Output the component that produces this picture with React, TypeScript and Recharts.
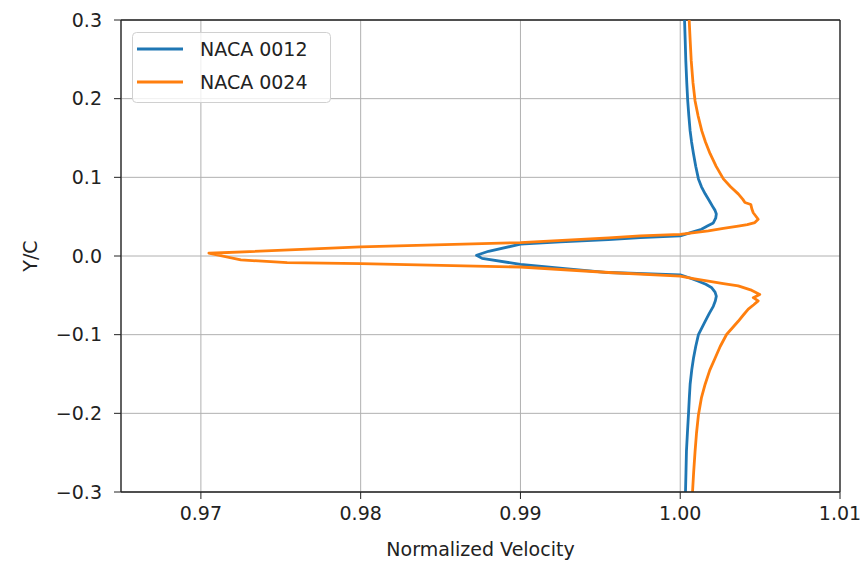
import { LineChart, Line, XAxis, YAxis, CartesianGrid, Legend, ReferenceLine } from "recharts"

const seriesNames = ["NACA 0012", "NACA 0024"]
const seriesColors = ["#1f77b4", "#ff7f0e"]

// Y/C positions and normalized velocity from top to bottom
const yc0012 = [
  0.3, 0.275, 0.248, 0.22, 0.197, 0.178, 0.159, 0.145, 0.13, 0.114, 0.098, 0.088, 0.079, 0.07,
  0.0615, 0.058, 0.0535, 0.048, 0.042, 0.038, 0.034, 0.03, 0.0255, 0.0235, 0.021, 0.018, 0.015,
  0.006, 0.001, -0.003, -0.0106, -0.016, -0.021, -0.024, -0.028, -0.032, -0.036, -0.04, -0.046,
  -0.051, -0.057, -0.064, -0.073, -0.083, -0.1, -0.115, -0.13, -0.145, -0.163, -0.18, -0.2,
  -0.225, -0.248, -0.275, -0.3,
]
const vel0012 = [
  1.00027, 1.00031, 1.00035, 1.00041, 1.00047, 1.00054, 1.00062, 1.00071, 1.00083, 1.00097, 1.00114, 1.00133, 1.00156, 1.00183,
  1.00207, 1.00218, 1.00226, 1.00222, 1.00207, 1.0017, 1.00133, 1.0007, 1.0, 0.9975, 0.9955, 0.9925, 0.99,
  0.988, 0.98725, 0.9876, 0.99, 0.9928, 0.9955, 1.0, 1.0006, 1.00114, 1.0016, 1.00195, 1.00218,
  1.00226, 1.0022, 1.00207, 1.00182, 1.00156, 1.00114, 1.00097, 1.00083, 1.00072, 1.00062, 1.00057, 1.00052,
  1.00045, 1.00039, 1.00036, 1.00033,
]

const yc0024 = [
  0.3, 0.275, 0.248, 0.22, 0.197, 0.178, 0.159, 0.145, 0.13, 0.114, 0.098, 0.088, 0.079, 0.072,
  0.068, 0.0655, 0.06, 0.055, 0.0467, 0.0425, 0.04, 0.038, 0.035, 0.032, 0.0276, 0.0255, 0.023,
  0.017, 0.0115, 0.0035, -0.005, -0.0085, -0.0098, -0.014, -0.021, -0.0255, -0.029, -0.032,
  -0.035, -0.038, -0.043, -0.0488, -0.053, -0.057, -0.062, -0.0675, -0.075, -0.083, -0.0998,
  -0.115, -0.13, -0.145, -0.163, -0.18, -0.202, -0.225, -0.248, -0.275, -0.3,
]
const vel0024 = [
  1.00056, 1.00062, 1.00069, 1.0008, 1.00093, 1.00112, 1.00135, 1.00158, 1.00187, 1.00225, 1.0027, 1.00315, 1.00363, 1.00392,
  1.00405, 1.00442, 1.00448, 1.00457, 1.00488, 1.00467, 1.0042, 1.00363, 1.0027, 1.00176, 1.0, 0.9975, 0.99553,
  0.99, 0.98, 0.9705, 0.9725, 0.9754, 0.98, 0.99, 0.99553, 1.0, 1.0009, 1.00176,
  1.0027, 1.00363, 1.0044, 1.00498, 1.00457, 1.00488, 1.0046, 1.00426, 1.00395, 1.00363, 1.0029,
  1.0025, 1.00218, 1.00185, 1.00156, 1.00133, 1.00114, 1.00102, 1.00093, 1.00084, 1.00077,
]

const xTicks = [0.97, 0.98, 0.99, 1.0, 1.01]
const yTicks = [-0.3, -0.2, -0.1, 0.0, 0.1, 0.2, 0.3]

const toPoints = (ys: number[], vs: number[]) => ys.map((y, i) => ({ y, v: vs[i] }))

const font = "DejaVu Sans"
const textColor = "#222"
const tickStyle = { fill: textColor, fontSize: 19, fontFamily: font }

const fmtY = (v: number) => (v < 0 ? "\u2212" + Math.abs(v).toFixed(1) : v.toFixed(1))

function LegendBox() {
  return (
    <svg width={200} height={72} style={{ display: "block" }}>
      <rect x={0.5} y={0.5} width={198} height={70} rx={4} fill="#fff" fillOpacity={0.8} stroke="#d0d0d0" />
      {seriesNames.map((name, i) => (
        <g key={name}>
          <line x1={5} x2={51} y1={17 + i * 33} y2={17 + i * 33} stroke={seriesColors[i]} strokeWidth={2.8} />
          <text x={68} y={17 + i * 33} dy="0.36em" fontSize={19} fontFamily={font} fill={textColor}>
            {name}
          </text>
        </g>
      ))}
    </svg>
  )
}

export default function App() {
  const data0012 = toPoints(yc0012, vel0012)
  const data0024 = toPoints(yc0024, vel0024)
  return (
    <div style={{ position: "absolute", left: 0, top: 0, background: "#fff" }}>
      <LineChart width={865} height={563} margin={{ top: 20, right: 25, bottom: 0, left: 0 }}>
        <CartesianGrid stroke="#b0b0b0" strokeWidth={1} />
        <XAxis
          dataKey="v"
          type="number"
          domain={[0.965, 1.01]}
          ticks={xTicks}
          allowDataOverflow
          tickFormatter={(v: number) => v.toFixed(2)}
          tick={tickStyle}
          tickSize={7}
          tickMargin={8}
          height={71}
          stroke="#222"
          axisLine={{ stroke: "#222", strokeWidth: 1.3 }}
          label={{ value: "Normalized Velocity", position: "insideBottom", offset: 7, fill: textColor, fontSize: 19, fontFamily: font }}
        />
        <YAxis
          type="number"
          domain={[-0.3, 0.3]}
          ticks={yTicks}
          allowDataOverflow
          tickFormatter={fmtY}
          tick={tickStyle}
          tickSize={7}
          tickMargin={12}
          width={121}
          stroke="#222"
          axisLine={{ stroke: "#222", strokeWidth: 1.3 }}
          label={{ value: "Y/C", angle: -90, position: "insideLeft", offset: 30, fill: textColor, fontSize: 19, fontFamily: font, style: { textAnchor: "middle" } }}
        />
        <ReferenceLine x={1.01} stroke="#222" strokeWidth={1.3} />
        <ReferenceLine y={0.3} stroke="#222" strokeWidth={1.3} />
        <Line
          data={data0012}
          dataKey="y"
          name={seriesNames[0]}
          type="linear"
          stroke={seriesColors[0]}
          strokeWidth={2.8}
          strokeLinejoin="round"
          dot={false}
          isAnimationActive={false}
        />
        <Line
          data={data0024}
          dataKey="y"
          name={seriesNames[1]}
          type="linear"
          stroke={seriesColors[1]}
          strokeWidth={2.8}
          strokeLinejoin="round"
          dot={false}
          isAnimationActive={false}
        />
        <Legend
          layout="vertical"
          align="center"
          verticalAlign="middle"
          content={() => <LegendBox />}
          wrapperStyle={{ left: 132, top: 32, width: 200, height: 72 }}
        />
      </LineChart>
    </div>
  )
}
